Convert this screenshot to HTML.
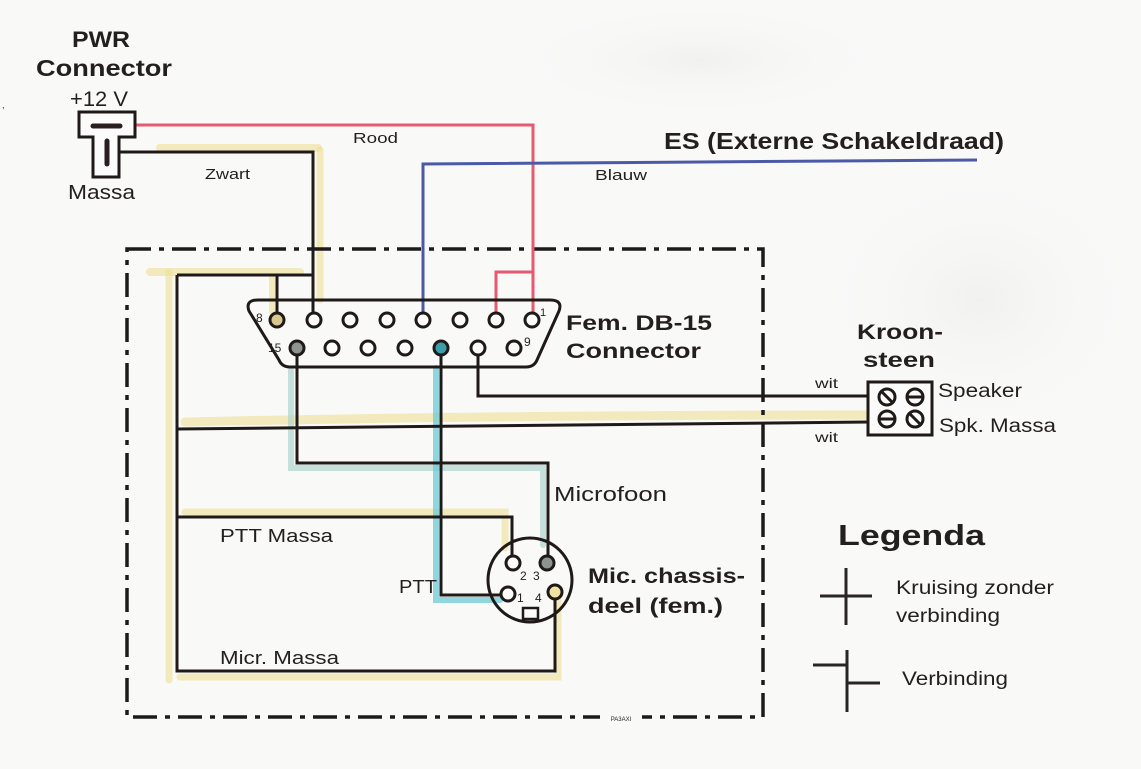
<!DOCTYPE html>
<html><head><meta charset="utf-8"><style>
html,body{margin:0;padding:0;background:#f9f9f8;}
svg{display:block;}
text{font-family:"Liberation Sans",Arial,sans-serif;fill:#231f1f;}
.b{font-weight:bold;}
</style></head><body>
<svg width="1141" height="769" viewBox="0 0 1141 769" xmlns="http://www.w3.org/2000/svg">
<defs>
<radialGradient id="g1" cx="0.5" cy="0.5" r="0.5"><stop offset="0" stop-color="#f1f1f0"/><stop offset="1" stop-color="#f9f9f8" stop-opacity="0"/></radialGradient>
</defs>
<rect width="1141" height="769" fill="#f9f9f8"/>
<ellipse cx="980" cy="300" rx="170" ry="140" fill="url(#g1)"/>
<ellipse cx="700" cy="60" rx="200" ry="60" fill="url(#g1)"/>

<!-- yellow highlights -->
<g stroke="#ecdf95" stroke-opacity="0.6" fill="none" stroke-linecap="round">
<path d="M160,148 H318" stroke-width="8"/>
<path d="M320,150 V300" stroke-width="7"/>
<path d="M150,272 H300" stroke-width="8"/>
<path d="M272,278 V312" stroke-width="6"/>
<path d="M169,272 V680" stroke-width="7"/>
<path d="M185,422 Q500,415 868,415" stroke-width="9"/>
<path d="M185,512 H505 V548" stroke-width="7"/>
<path d="M180,677 H558 V600" stroke-width="7"/>
</g>
<!-- teal highlights -->
<g fill="none" stroke-linecap="round">
<path d="M291,370 V468 H543 V545" stroke="#a9d2cb" stroke-width="6" stroke-opacity="0.65"/>
<path d="M436,368 V600 H500" stroke="#6cc9d5" stroke-width="6" stroke-opacity="0.75"/>
</g>

<!-- dashed enclosure -->
<rect x="127" y="249" width="636" height="468" fill="none" stroke="#1c1a1a" stroke-width="3.5" stroke-dasharray="24 8 5 8"/>
<rect x="600" y="714" width="42" height="8" fill="#f9f9f8"/>
<text x="621" y="721" font-size="6" text-anchor="middle">PA3AXI</text>

<!-- red wires -->
<g stroke="#e55a70" stroke-width="3" fill="none">
<path d="M120,125 H533 V313"/>
<path d="M533,272 H496 V313"/>
</g>
<!-- blue wire -->
<path d="M423,313 V164 L977,160" stroke="#4b5aa6" stroke-width="3" fill="none"/>

<!-- black wires -->
<g stroke="#1f1a18" stroke-width="3" fill="none">
<path d="M110,152 H313 V313"/>
<path d="M177,275 H313"/>
<path d="M277,275 V313"/>
<path d="M177,275 V671 H555 V599"/>
<path d="M177,429 L868,422"/>
<path d="M177,517 H512 V556"/>
<path d="M297,355 V463 H548 V556"/>
<path d="M441,355 V595 H501"/>
<path d="M478,355 V396 H868"/>
</g>

<!-- PWR connector -->
<path d="M79,112 H135 V137 H119 V177 H93 V137 H79 Z" fill="#fbfbfb" stroke="#1f1a18" stroke-width="3"/>
<path d="M93,126 H120" stroke="#2a1f20" stroke-width="5" stroke-linecap="round"/>
<path d="M107,141 V164" stroke="#2a1f20" stroke-width="5" stroke-linecap="round"/>

<!-- DB15 -->
<path d="M258,300 H550 Q563,300 559,311 L537,360 Q534,367 526,367 H290 Q282,367 279,360 L249,311 Q245,300 258,300 Z" fill="none" stroke="#1f1a18" stroke-width="3"/>
<g stroke="#1f1a18" stroke-width="3" fill="#fbfbfb">
<circle cx="277" cy="320" r="7" fill="#d8c890"/>
<circle cx="314" cy="320" r="7"/>
<circle cx="350" cy="320" r="7"/>
<circle cx="387" cy="320" r="7"/>
<circle cx="423" cy="320" r="7"/>
<circle cx="460" cy="320" r="7"/>
<circle cx="496" cy="320" r="7"/>
<circle cx="532" cy="320" r="7"/>
<circle cx="297" cy="348" r="7" fill="#8d948f"/>
<circle cx="332" cy="348" r="7"/>
<circle cx="368" cy="348" r="7"/>
<circle cx="405" cy="348" r="7"/>
<circle cx="441" cy="348" r="7" fill="#3b9eaa"/>
<circle cx="478" cy="348" r="7"/>
<circle cx="514" cy="348" r="7"/>
</g>
<text x="256" y="322" font-size="12">8</text>
<text x="540" y="316" font-size="11">1</text>
<text x="268" y="352" font-size="12">15</text>
<text x="524" y="346" font-size="12">9</text>

<!-- Mic connector -->
<circle cx="530" cy="580" r="42" fill="none" stroke="#1f1a18" stroke-width="3"/>
<rect x="523" y="608" width="15" height="11" fill="#fbfbfb" stroke="#1f1a18" stroke-width="2.5"/>
<g stroke="#1f1a18" stroke-width="3" fill="#fbfbfb">
<circle cx="513" cy="563" r="7"/>
<circle cx="547" cy="563" r="7" fill="#8d948f"/>
<circle cx="508" cy="594" r="7"/>
<circle cx="555" cy="592" r="7" fill="#f0e2a0"/>
</g>
<text x="520" y="580" font-size="12">2</text>
<text x="533" y="580" font-size="12">3</text>
<text x="517" y="602" font-size="12">1</text>
<text x="535" y="602" font-size="12">4</text>

<!-- Kroonsteen -->
<rect x="868" y="382" width="64" height="53" fill="#fbfbfb" stroke="#1f1a18" stroke-width="3"/>
<g stroke="#1f1a18" stroke-width="3" fill="none">
<circle cx="887" cy="397" r="8"/><path d="M882,392 L892,402"/>
<circle cx="915" cy="397" r="8"/><path d="M908,397 H922"/>
<circle cx="887" cy="419" r="8"/><path d="M880,419 H894"/>
<circle cx="915" cy="419" r="8"/><path d="M910,414 L920,424"/>
</g>

<!-- Legend symbols -->
<g stroke="#2a2525" stroke-width="3" fill="none">
<path d="M820,596 H872"/><path d="M846,568 V625"/>
<path d="M847,650 V712"/><path d="M813,665 H847"/><path d="M847,683 H880"/>
</g>

<!-- Texts -->
<text class="b" x="72" y="47" font-size="22" textLength="58" lengthAdjust="spacingAndGlyphs">PWR</text>
<text class="b" x="36" y="76" font-size="23" textLength="136" lengthAdjust="spacingAndGlyphs">Connector</text>
<text x="70" y="106" font-size="21" textLength="58" lengthAdjust="spacingAndGlyphs">+12 V</text>
<text x="68" y="199" font-size="20" textLength="67" lengthAdjust="spacingAndGlyphs">Massa</text>
<text x="205" y="179" font-size="15" textLength="45" lengthAdjust="spacingAndGlyphs">Zwart</text>
<text x="353" y="143" font-size="15" textLength="45" lengthAdjust="spacingAndGlyphs">Rood</text>
<text x="595" y="180" font-size="15" textLength="52" lengthAdjust="spacingAndGlyphs">Blauw</text>
<text class="b" x="664" y="149" font-size="23" textLength="340" lengthAdjust="spacingAndGlyphs">ES (Externe Schakeldraad)</text>
<text class="b" x="566" y="330" font-size="21" textLength="146" lengthAdjust="spacingAndGlyphs">Fem. DB-15</text>
<text class="b" x="566" y="358" font-size="21" textLength="135" lengthAdjust="spacingAndGlyphs">Connector</text>
<text class="b" x="857" y="339" font-size="21" textLength="86" lengthAdjust="spacingAndGlyphs">Kroon-</text>
<text class="b" x="863" y="367" font-size="21" textLength="72" lengthAdjust="spacingAndGlyphs">steen</text>
<text x="938" y="397" font-size="19" textLength="84" lengthAdjust="spacingAndGlyphs">Speaker</text>
<text x="939" y="432" font-size="19" textLength="117" lengthAdjust="spacingAndGlyphs">Spk. Massa</text>
<text x="815" y="388" font-size="14" textLength="23" lengthAdjust="spacingAndGlyphs">wit</text>
<text x="815" y="442" font-size="14" textLength="23" lengthAdjust="spacingAndGlyphs">wit</text>
<text x="554" y="501" font-size="20" textLength="113" lengthAdjust="spacingAndGlyphs">Microfoon</text>
<text class="b" x="588" y="583" font-size="21" textLength="157" lengthAdjust="spacingAndGlyphs">Mic. chassis-</text>
<text class="b" x="588" y="613" font-size="21" textLength="135" lengthAdjust="spacingAndGlyphs">deel (fem.)</text>
<text x="399" y="593" font-size="18" textLength="38" lengthAdjust="spacingAndGlyphs">PTT</text>
<text x="220" y="542" font-size="18" textLength="113" lengthAdjust="spacingAndGlyphs">PTT Massa</text>
<text x="220" y="664" font-size="18" textLength="119" lengthAdjust="spacingAndGlyphs">Micr. Massa</text>
<text class="b" x="838" y="545" font-size="29" textLength="147" lengthAdjust="spacingAndGlyphs">Legenda</text>
<text x="896" y="594" font-size="19" textLength="158" lengthAdjust="spacingAndGlyphs">Kruising zonder</text>
<text x="896" y="622" font-size="19" textLength="104" lengthAdjust="spacingAndGlyphs">verbinding</text>
<text x="902" y="685" font-size="19" textLength="106" lengthAdjust="spacingAndGlyphs">Verbinding</text>
<text x="2" y="108" font-size="9" fill="#888">,</text>
</svg>
</body></html>
